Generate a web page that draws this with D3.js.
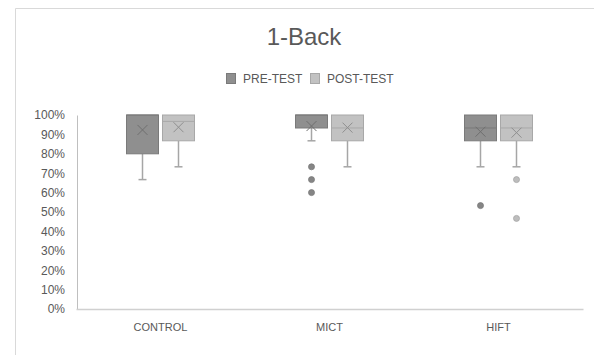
<!DOCTYPE html>
<html>
<head>
<meta charset="utf-8">
<script src="https://cdn.jsdelivr.net/npm/d3@7"></script>
<style>
  html, body { margin: 0; padding: 0; background: #fff; }
  svg { display: block; font-family: "Liberation Sans", "DejaVu Sans", sans-serif; }
</style>
</head>
<body>
<svg id="chart" width="594" height="355"></svg>
<script>
const title = "1-Back";
const categories = ["CONTROL", "MICT", "HIFT"];
const seriesNames = ["PRE-TEST", "POST-TEST"];
const yTicks = [0, 0.1, 0.2, 0.3, 0.4, 0.5, 0.6, 0.7, 0.8, 0.9, 1.0];

// box statistics per category
const preMin    = [0.667, 0.867, 0.733];
const preQ1     = [0.800, 0.933, 0.867];
const preMedian = [1.000, 1.000, 0.933];
const preQ3     = [1.000, 1.000, 1.000];
const preMax    = [1.000, 1.000, 1.000];
const preMean   = [0.923, 0.943, 0.914];
const preOutliers = [[], [0.733, 0.667, 0.600], [0.533]];

const postMin    = [0.733, 0.733, 0.733];
const postQ1     = [0.867, 0.867, 0.867];
const postMedian = [0.967, 0.933, 0.933];
const postQ3     = [1.000, 1.000, 1.000];
const postMax    = [1.000, 1.000, 1.000];
const postMean   = [0.937, 0.935, 0.909];
const postOutliers = [[], [], [0.667, 0.467]];

const colors = {
  pre:  { fill: "#8f8f8f", stroke: "#7a7a7a", mark: "#6f6f6f", dot: "#858585" },
  post: { fill: "#c2c2c2", stroke: "#a8a8a8", mark: "#8f8f8f", dot: "#bdbdbd" }
};

const svg = d3.select("#chart");

// chart border (partially visible)
svg.append("path")
  .attr("d", "M15.5,355 L15.5,8.5 L594,8.5")
  .attr("fill", "none").attr("stroke", "#d9d9d9").attr("stroke-width", 1);

const x = d3.scaleBand().domain(categories).range([76, 583]);
const y = d3.scaleLinear().domain([0, 1]).range([309, 115]);

// title
svg.append("text").attr("x", 304).attr("y", 45)
  .attr("text-anchor", "middle").attr("font-size", 24).attr("fill", "#595959")
  .text(title);

// legend
const legend = [
  { name: seriesNames[0], c: colors.pre, x: 226 },
  { name: seriesNames[1], c: colors.post, x: 310 }
];
legend.forEach(l => {
  svg.append("rect").attr("x", l.x + 0.5).attr("y", 73.5).attr("width", 9).attr("height", 10)
    .attr("fill", l.c.fill).attr("stroke", l.c.stroke);
  svg.append("text").attr("x", l.x + 17).attr("y", 83).attr("font-size", 12)
    .attr("fill", "#595959").text(l.name);
});

// y axis
const yAxis = d3.axisLeft(y).tickValues(yTicks).tickFormat(d3.format(".0%")).tickSize(0).tickPadding(12);
const gy = svg.append("g").attr("transform", "translate(77,0)").call(yAxis);
gy.select(".domain").attr("stroke", "#bfbfbf").attr("stroke-width", 1);
gy.selectAll("text").attr("font-size", 12).attr("fill", "#595959")
  .attr("font-family", "Liberation Sans, sans-serif");

// x axis
const xAxis = d3.axisBottom(x).tickSize(0).tickPadding(14);
const gx = svg.append("g").attr("transform", "translate(0,309)").call(xAxis);
gx.select(".domain").attr("stroke", "#d0d0d0").attr("stroke-width", 1.5);
gx.selectAll("text").attr("font-size", 11).attr("fill", "#595959")
  .attr("font-family", "Liberation Sans, sans-serif");

// boxes
const boxW = 32, gap = 2, capW = 8;
function drawBox(cat, i, s, offset) {
  const c = colors[s.key];
  const cx = x(cat) + x.bandwidth() / 2 + offset;
  const g = svg.append("g");
  // whiskers
  g.append("line").attr("x1", cx).attr("x2", cx).attr("y1", y(s.q1[i])).attr("y2", y(s.min[i]))
    .attr("stroke", "#a6a6a6").attr("stroke-width", 1.5);
  g.append("line").attr("x1", cx - capW/2).attr("x2", cx + capW/2).attr("y1", y(s.min[i])).attr("y2", y(s.min[i]))
    .attr("stroke", "#a6a6a6").attr("stroke-width", 1.5);
  g.append("line").attr("x1", cx).attr("x2", cx).attr("y1", y(s.q3[i])).attr("y2", y(s.max[i]))
    .attr("stroke", "#a6a6a6").attr("stroke-width", 1.5);
  // box
  g.append("rect").attr("x", cx - boxW/2).attr("width", boxW)
    .attr("y", y(s.q3[i])).attr("height", Math.max(0, y(s.q1[i]) - y(s.q3[i])))
    .attr("fill", c.fill).attr("stroke", c.stroke).attr("stroke-width", 1);
  // median
  g.append("line").attr("x1", cx - boxW/2).attr("x2", cx + boxW/2)
    .attr("y1", y(s.median[i])).attr("y2", y(s.median[i]))
    .attr("stroke", c.stroke).attr("stroke-width", 1);
  // mean marker (x)
  const my = y(s.mean[i]), r = 5;
  g.append("path").attr("d", `M${cx-r},${my-r}L${cx+r},${my+r}M${cx-r},${my+r}L${cx+r},${my-r}`)
    .attr("stroke", c.mark).attr("stroke-width", 1).attr("fill", "none");
  // outliers
  s.outliers[i].forEach(v => {
    g.append("circle").attr("cx", cx).attr("cy", y(v)).attr("r", 3)
      .attr("fill", c.dot).attr("stroke", s.key === "pre" ? "#7a7a7a" : "#a6a6a6").attr("stroke-width", 0.8);
  });
}

const pre = { key: "pre", min: preMin, q1: preQ1, median: preMedian, q3: preQ3, max: preMax, mean: preMean, outliers: preOutliers };
const post = { key: "post", min: postMin, q1: postQ1, median: postMedian, q3: postQ3, max: postMax, mean: postMean, outliers: postOutliers };

categories.forEach((cat, i) => {
  drawBox(cat, i, pre, -(boxW/2 + gap));
  drawBox(cat, i, post, (boxW/2 + gap));
});
</script>
</body>
</html>
